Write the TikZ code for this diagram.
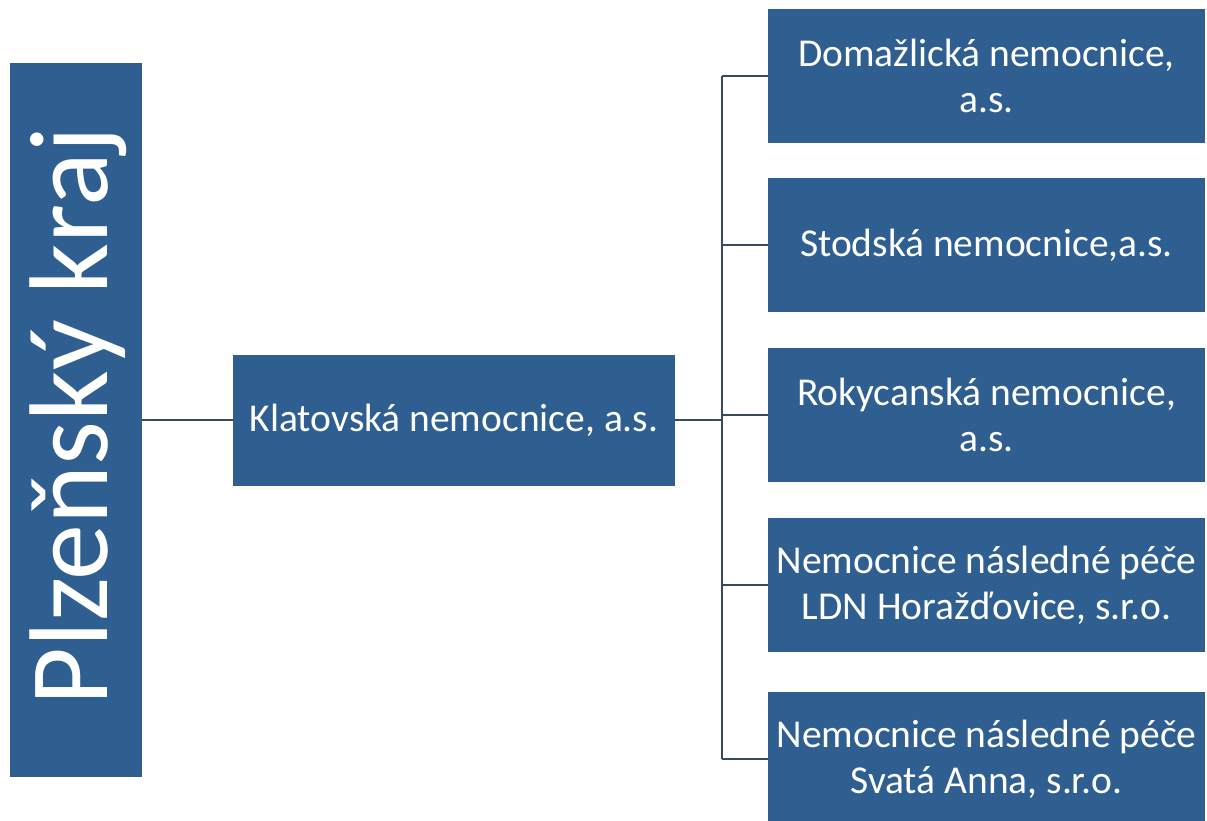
\documentclass[tikz,border=0pt]{standalone}
\usepackage{fontspec}
\setmainfont{Carlito}
\definecolor{boxblue}{HTML}{2F5E90}
\definecolor{linecol}{HTML}{3A4A5E}
\begin{document}
\begin{tikzpicture}[x=1pt,y=-1pt,
  box/.style={draw=none,fill=boxblue,text=white,inner sep=0pt,align=center,
    font=\fontsize{39.5}{46}\selectfont},
  conn/.style={draw=linecol,line width=2pt}]
\useasboundingbox (0,0) rectangle (1207,820);
\node[box,minimum width=132pt,minimum height=714pt] (pk) at (76,420) {};
\node[rotate=90,text=white,font=\fontsize{112}{120}\selectfont,inner sep=0pt] (pkt) at (78,416) {Plzeňský kraj};
\node[box,minimum width=442pt,minimum height=131pt] (kl) at (454,420) {Klatovská nemocnice, a.s.};
\node[box,minimum width=437pt,minimum height=134pt] (d1) at (986.5,76) {Domažlická nemocnice,\\a.s.};
\node[box,minimum width=437pt,minimum height=134pt] (d2) at (986.5,245) {Stodská nemocnice,a.s.};
\node[box,minimum width=437pt,minimum height=134pt] (d3) at (986.5,415) {Rokycanská nemocnice,\\a.s.};
\node[box,minimum width=437pt,minimum height=134pt] (d4) at (986.5,585) {Nemocnice následné péče\\LDN Horažďovice, s.r.o.};
\node[box,minimum width=437pt,minimum height=134pt] (d5) at (986.5,759) {Nemocnice následné péče\\Svatá Anna, s.r.o.};
\coordinate (t1) at (722,76);
\coordinate (t5) at (722,759);
\draw[conn] (pk.east|-kl.west) -- (kl.west);
\draw[conn] (kl.east) -- (722,420);
\draw[conn] (t1) -- (t5);
\foreach \n in {d1,d2,d3,d4,d5} \draw[conn] (722,0 |- \n.west) -- (\n.west);
\end{tikzpicture}
\end{document}
